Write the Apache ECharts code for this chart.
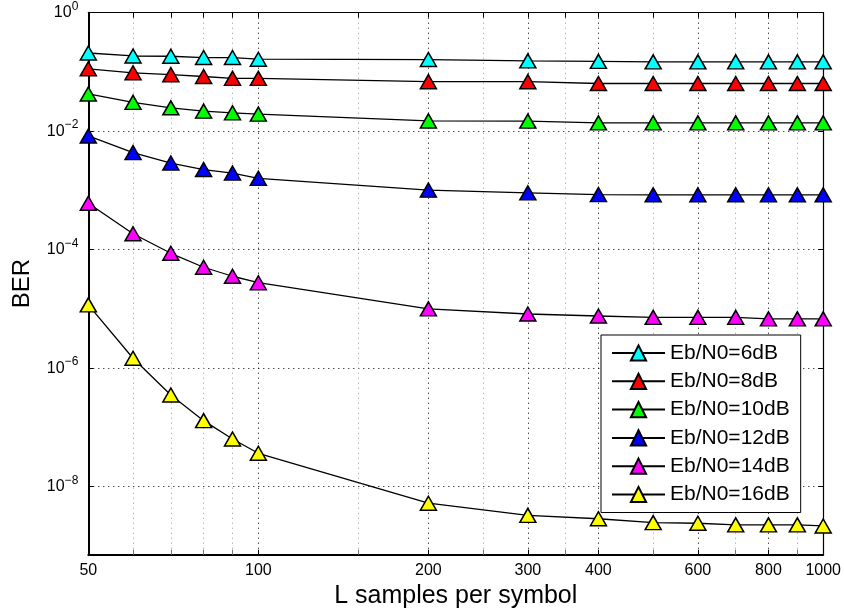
<!DOCTYPE html>
<html>
<head>
<meta charset="utf-8">
<script src="https://cdn.jsdelivr.net/npm/echarts@6/dist/echarts.min.js"></script>
<style>
  html, body { margin: 0; padding: 0; background: #ffffff; }
  #chart { width: 844px; height: 614px; }
</style>
</head>
<body>
<div id="chart"></div>
<script>
// Oversampling factor L (samples per symbol)
const samplesPerSymbol = [50, 60, 70, 80, 90, 100, 200, 300, 400, 500, 600, 700, 800, 900, 1000];

// Bit error rate for each Eb/N0
const ber6dB  = [0.209, 0.186, 0.184, 0.175, 0.175, 0.164, 0.162, 0.154, 0.151, 0.148, 0.148, 0.148, 0.148, 0.148, 0.148];
const ber8dB  = [0.113, 0.0968, 0.0899, 0.0838, 0.0778, 0.0778, 0.0685, 0.0685, 0.0638, 0.0638, 0.0638, 0.0638, 0.0638, 0.0638, 0.0638];
const ber10dB = [0.0425, 0.0307, 0.0248, 0.0218, 0.0204, 0.0194, 0.0149, 0.0148, 0.0138, 0.0138, 0.0138, 0.0138, 0.0138, 0.0138, 0.0138];
const ber12dB = [0.0083, 0.00434, 0.0029, 0.00225, 0.00196, 0.0016, 0.00101, 0.00091, 0.00085, 0.00084, 0.00084, 0.00084, 0.00084, 0.00084, 0.00084];
const ber14dB = [6.07e-4, 1.86e-4, 8.69e-5, 5.05e-5, 3.56e-5, 2.77e-5, 1.0e-5, 8.2e-6, 7.6e-6, 7.2e-6, 7.2e-6, 7.2e-6, 6.8e-6, 6.8e-6, 6.8e-6];
const ber16dB = [1.17e-5, 1.47e-6, 3.53e-7, 1.30e-7, 6.38e-8, 3.66e-8, 5.25e-9, 3.27e-9, 2.87e-9, 2.47e-9, 2.41e-9, 2.26e-9, 2.26e-9, 2.26e-9, 2.17e-9];

const seriesNames = ['Eb/N0=6dB', 'Eb/N0=8dB', 'Eb/N0=10dB', 'Eb/N0=12dB', 'Eb/N0=14dB', 'Eb/N0=16dB'];
const seriesValues = [ber6dB, ber8dB, ber10dB, ber12dB, ber14dB, ber16dB];
const markerColors = ['#00ffff', '#ff0000', '#00ff00', '#0000ff', '#ff00ff', '#ffff00'];

// Axis ticks
const xLabelTicks = [50, 100, 200, 300, 400, 600, 800, 1000];
const xMinorTicks = [60, 70, 80, 90, 150, 250, 350, 500, 700, 900];
const xAllTicks = [50, 60, 70, 80, 90, 100, 150, 200, 250, 300, 350, 400, 500, 600, 700, 800, 900, 1000];
const yLabelTicks = [1e-8, 1e-6, 1e-4, 1e-2, 1];
const xRange = [50, 1000];
const yRange = [7.1e-10, 1];

const FONT = "'Liberation Sans', Arial, Helvetica, sans-serif";

function powerLabel(v) {
  const e = Math.round(Math.log10(v));
  const exp = e < 0 ? '\u2212' + (-e) : String(e);
  return '{b|10}{s|' + exp + '}';
}

const chart = echarts.init(document.getElementById('chart'), null, { renderer: 'canvas' });

const series = seriesNames.map((name, i) => ({
  name: name,
  type: 'line',
  xAxisIndex: 0,
  yAxisIndex: 0,
  data: samplesPerSymbol.map((x, j) => [x, seriesValues[i][j]]),
  symbol: 'triangle',
  symbolSize: [16, 14],
  lineStyle: { color: '#000000', width: 1.3 },
  itemStyle: { color: markerColors[i], borderColor: '#000000', borderWidth: 1.5 },
  emphasis: { disabled: true },
  animation: false,
  z: 3
}));

const option = {
  backgroundColor: '#ffffff',
  animation: false,
  grid: { left: 88.3, right: 19.2, top: 12.7, bottom: 59.3, containLabel: false },
  legend: {
    orient: 'vertical',
    left: 601,
    top: 335,
    padding: [7.5, 11, 7.5, 10],
    itemGap: 7.3,
    itemWidth: 53,
    itemHeight: 19,
    borderColor: '#000000',
    borderWidth: 1,
    backgroundColor: '#ffffff',
    textStyle: { fontFamily: FONT, fontSize: 21, color: '#000000' },
    data: seriesNames,
    selectedMode: false,
    z: 10
  },
  xAxis: [
    {
      type: 'log', logBase: 10, min: xRange[0], max: xRange[1], position: 'bottom',
      name: 'L samples per symbol', nameLocation: 'middle', nameGap: 27,
      nameTextStyle: { fontFamily: FONT, fontSize: 25, color: '#000000' },
      axisLine: { show: true, onZero: false, lineStyle: { color: '#000000', width: 2 } },
      axisTick: { show: true, inside: true, length: 5, customValues: xLabelTicks, lineStyle: { color: '#000000' } },
      axisLabel: { customValues: xLabelTicks, fontFamily: FONT, fontSize: 16, color: '#000000', margin: 8,
                   formatter: v => String(Math.round(v)) },
      splitLine: { show: true, lineStyle: { color: '#000000', width: 1, type: [1, 4] } },
      minorTick: { show: false }, minorSplitLine: { show: false }
    },
    {
      type: 'log', logBase: 10, min: xRange[0], max: xRange[1], position: 'bottom',
      axisLine: { show: false },
      axisTick: { show: true, inside: true, length: 5, customValues: xMinorTicks, lineStyle: { color: '#777777' } },
      axisLabel: { show: false },
      splitLine: { show: true, lineStyle: { color: '#9a9a9a', width: 1, type: [1, 4] } }
    },
    {
      type: 'log', logBase: 10, min: xRange[0], max: xRange[1], position: 'top',
      axisLine: { show: true, onZero: false, lineStyle: { color: '#000000', width: 1.2 } },
      axisTick: { show: true, inside: true, length: 5, customValues: xAllTicks, lineStyle: { color: '#000000' } },
      axisLabel: { show: false },
      splitLine: { show: false }
    }
  ],
  yAxis: [
    {
      type: 'log', logBase: 10, min: yRange[0], max: yRange[1], position: 'left',
      name: 'BER', nameLocation: 'middle', nameGap: 54,
      nameTextStyle: { fontFamily: FONT, fontSize: 24, color: '#000000' },
      axisLine: { show: true, onZero: false, lineStyle: { color: '#000000', width: 2 } },
      axisTick: { show: true, inside: true, length: 5, customValues: yLabelTicks, lineStyle: { color: '#000000' } },
      axisLabel: {
        customValues: yLabelTicks, margin: 10, formatter: powerLabel,
        rich: {
          b: { fontFamily: FONT, fontSize: 16, color: '#000000' },
          s: { fontFamily: FONT, fontSize: 12, color: '#000000', padding: [0, 0, 12, 0] }
        }
      },
      splitLine: { show: true, lineStyle: { color: '#000000', width: 1, type: [1, 4] } },
      minorTick: { show: false }, minorSplitLine: { show: false }
    },
    {
      type: 'log', logBase: 10, min: yRange[0], max: yRange[1], position: 'right',
      axisLine: { show: true, onZero: false, lineStyle: { color: '#000000', width: 1.2 } },
      axisTick: { show: true, inside: true, length: 5, customValues: yLabelTicks, lineStyle: { color: '#000000' } },
      axisLabel: { show: false },
      splitLine: { show: false }
    }
  ],
  series: series
};

chart.setOption(option);
</script>
</body>
</html>
